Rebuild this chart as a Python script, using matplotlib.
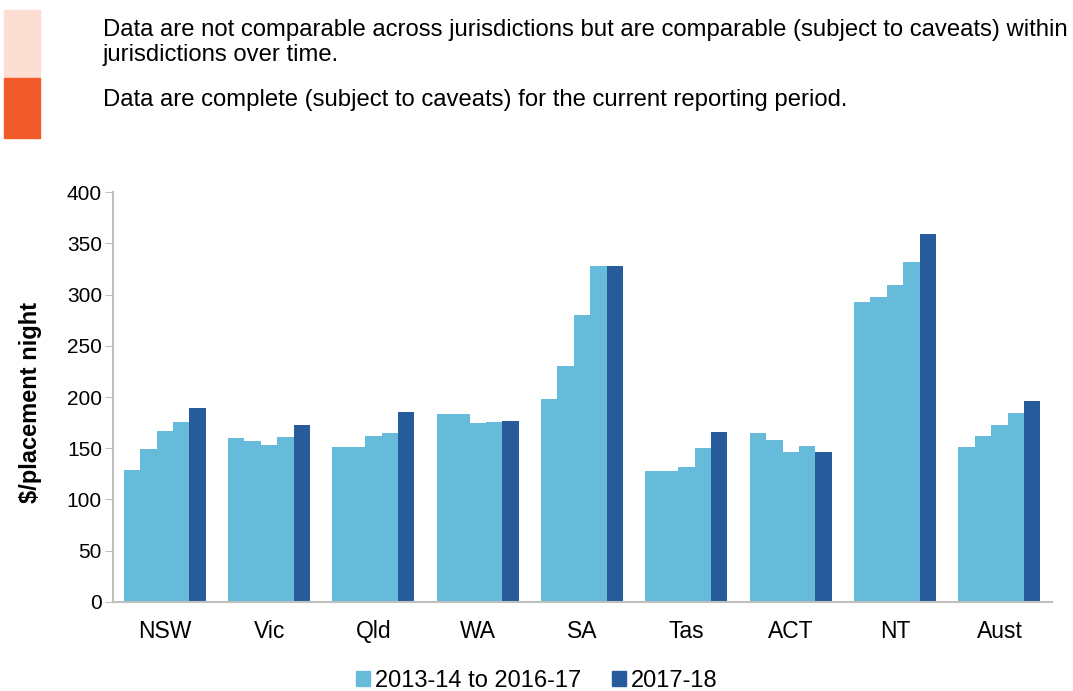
import matplotlib.pyplot as plt
import matplotlib.patches as mpatches
import numpy as np

plt.rcParams['font.family'] = ['Liberation Sans', 'DejaVu Sans']

categories = ['NSW', 'Vic', 'Qld', 'WA', 'SA', 'Tas', 'ACT', 'NT', 'Aust']
years = ['2013-14', '2014-15', '2015-16', '2016-17', '2017-18']
values = {
    '2013-14': [129, 160, 151, 183, 198, 128, 165, 293, 151],
    '2014-15': [149, 157, 151, 183, 230, 128, 158, 298, 162],
    '2015-16': [167, 153, 162, 175, 280, 132, 146, 309, 173],
    '2016-17': [176, 161, 165, 176, 328, 150, 152, 332, 184],
    '2017-18': [189, 173, 185, 177, 328, 166, 146, 359, 196],
}
legend_labels = ['2013-14 to 2016-17', '2017-18']

light = '#67BBDA'
dark = '#275B9B'

fig = plt.figure(figsize=(10.73, 6.91), dpi=100)
ax = fig.add_axes([0.1053, 0.1292, 0.8751, 0.5925])

x = np.arange(len(categories))
w = 0.157
for i, yr in enumerate(years):
    col = dark if yr == '2017-18' else light
    ax.bar(x + (i - 2) * w - 0.004, values[yr], width=w, color=col, linewidth=0)

ax.set_xlim(-0.5, len(categories) - 0.5)
ax.set_ylim(0, 400)
ax.set_yticks(range(0, 401, 50))
ax.set_xticks(x)
ax.set_xticklabels(categories)
ax.tick_params(axis='x', length=0, labelsize=16.5, pad=13)
ax.tick_params(axis='y', length=6, color='#BFBFBF', labelsize=15, pad=2)

for s in ['top', 'right']:
    ax.spines[s].set_visible(False)
for s in ['left', 'bottom']:
    ax.spines[s].set_color('#BFBFBF')
    ax.spines[s].set_linewidth(1.5)

ax.set_ylabel('$/placement night', fontsize=17, fontweight='bold')
ax.yaxis.set_label_coords(-0.076, 0.487)

handles = [mpatches.Patch(color=light), mpatches.Patch(color=dark)]
fig.legend(handles, legend_labels, loc='center', bbox_to_anchor=(0.5, 0.015),
           ncol=2, frameon=False, fontsize=17, handlelength=0.6, handleheight=0.6,
           handletextpad=0.2, columnspacing=1.3)

# quality indicator boxes at top
fig.patches.append(mpatches.Rectangle((4 / 1073, 1 - 78 / 691), 36 / 1073, 68 / 691,
                                      transform=fig.transFigure, color='#FCDED3'))
fig.patches.append(mpatches.Rectangle((4 / 1073, 1 - 138 / 691), 36 / 1073, 60 / 691,
                                      transform=fig.transFigure, color='#F15A29'))
fig.text(103 / 1073, 1 - 30 / 691,
         'Data are not comparable across jurisdictions but are comparable (subject to caveats) within',
         fontsize=17.2, va='center')
fig.text(103 / 1073, 1 - 55 / 691, 'jurisdictions over time.', fontsize=17.2, va='center')
fig.text(103 / 1073, 1 - 100 / 691,
         'Data are complete (subject to caveats) for the current reporting period.',
         fontsize=17.2, va='center')

fig.savefig('out.png', dpi=100)
